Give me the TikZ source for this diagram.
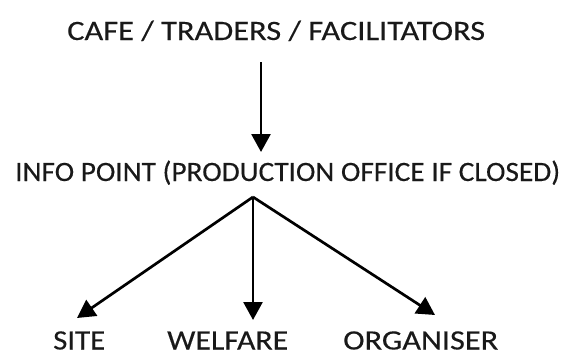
\documentclass[tikz,border=0pt]{standalone}
\usepackage{fontspec}
\usepackage{graphicx}
\setmainfont[FakeBold=0.25,BoldFont=Carlito]{Carlito}
\usetikzlibrary{arrows.meta}
% set a line of capitals to a given width and cap height
\newcommand\capsto[3]{\resizebox{#1}{#2}{\setbox0\hbox{#3}\ht0=\fontcharht\font`H\dp0=0pt\box0}}
\begin{document}
\begin{tikzpicture}[x=1pt,y=-1pt,
  label text/.style={anchor=base west,inner sep=0pt,text=black!90,font=\fontsize{28}{34}\selectfont\bfseries},
  flow/.style={line width=2.7pt,-{Triangle[length=18pt,width=19pt]}}]
\useasboundingbox (0,0) rectangle (571,354);
% texts
\node[label text] (src) at (67,40) {\capsto{418pt}{18pt}{CAFE / TRADERS / FACILITATORS}};
\node[label text] (info) at (15,181) {\capsto{545pt}{18pt}{INFO POINT (PRODUCTION OFFICE IF CLOSED)}};
\node[label text] (site) at (53,349.5) {\capsto{52pt}{18pt}{SITE}};
\node[label text] (welfare) at (167,349.5) {\capsto{121pt}{18pt}{WELFARE}};
\node[label text] (org) at (343,349.5) {\capsto{155pt}{18pt}{ORGANISER}};
% connector end points
\coordinate (srcout) at (261,62);
\coordinate (infoin) at (261,152);
\coordinate (infoout) at (253,197);
\coordinate (sitein) at (77,318);
\coordinate (welfarein) at (253,320);
\coordinate (orgin) at (435,315);
% connectors
\draw[flow] (srcout) -- (infoin);
\draw[flow] (infoout) -- (sitein);
\draw[flow] (infoout) -- (welfarein);
\draw[flow] (infoout) -- (orgin);
\end{tikzpicture}
\end{document}
